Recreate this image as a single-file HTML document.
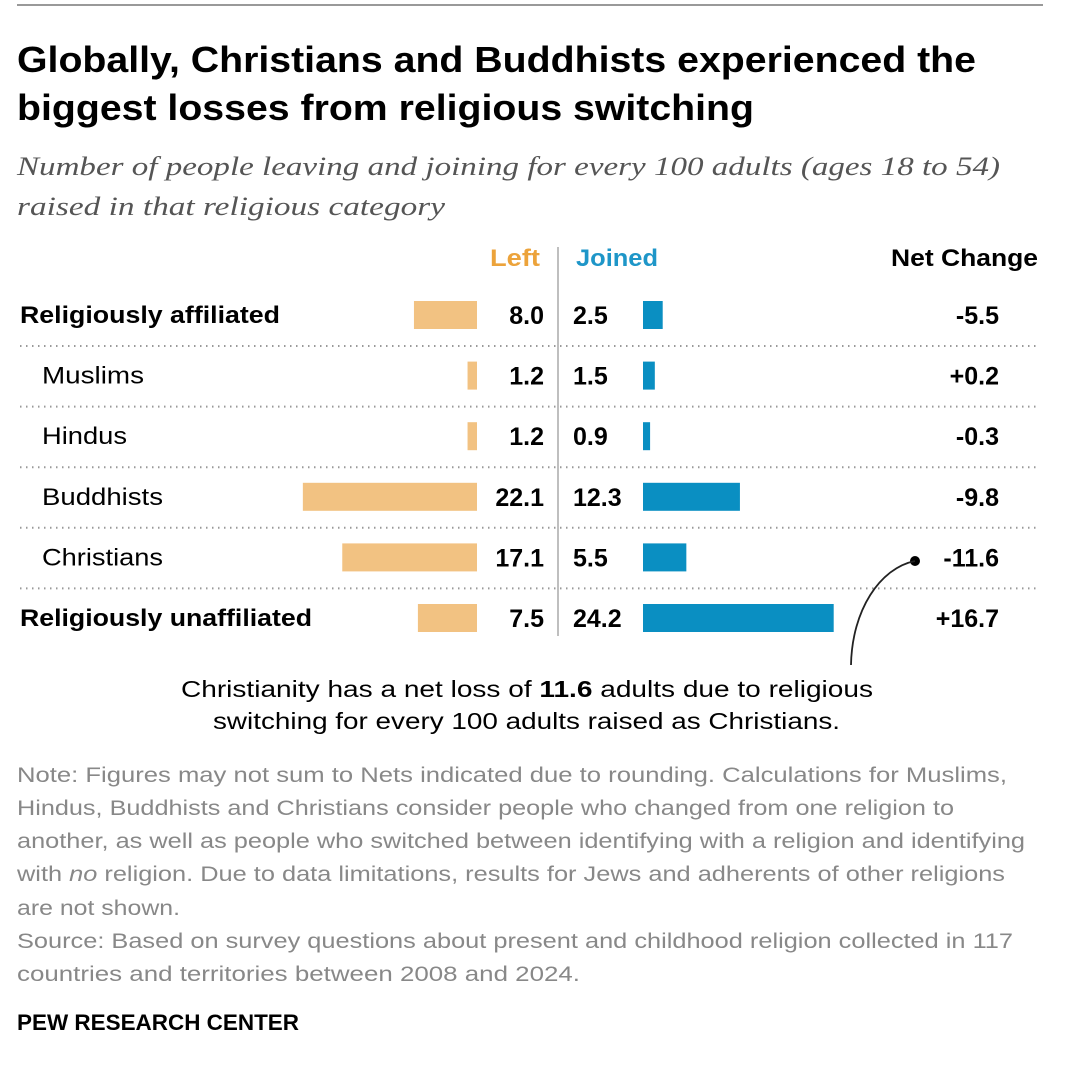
<!DOCTYPE html>
<html><head><meta charset="utf-8"><style>
body{margin:0;background:#fff;width:1082px;height:1074px;overflow:hidden}
svg{display:block;font-family:"Liberation Sans",Arial,sans-serif}
</style></head><body>
<svg width="1082" height="1074">
<line x1="17" y1="5" x2="1043" y2="5" stroke="#999" stroke-width="2"/>
<text x="17" y="72" font-size="36" font-weight="bold" fill="#000" textLength="959" lengthAdjust="spacingAndGlyphs">Globally, Christians and Buddhists experienced the</text>
<text x="17" y="120" font-size="36" font-weight="bold" fill="#000" textLength="737" lengthAdjust="spacingAndGlyphs">biggest losses from religious switching</text>
<text x="17" y="175" font-size="26" font-style="italic" font-family="Liberation Serif,serif" fill="#555" textLength="983" lengthAdjust="spacingAndGlyphs">Number of people leaving and joining for every 100 adults (ages 18 to 54)</text>
<text x="17" y="215" font-size="26" font-style="italic" font-family="Liberation Serif,serif" fill="#555" textLength="428" lengthAdjust="spacingAndGlyphs">raised in that religious category</text>
<text x="490" y="266" font-size="24" font-weight="bold" fill="#eca33b" textLength="50" lengthAdjust="spacingAndGlyphs">Left</text>
<text x="576" y="266" font-size="24" font-weight="bold" fill="#1e96c8" textLength="82" lengthAdjust="spacingAndGlyphs">Joined</text>
<text x="891" y="266" font-size="24" font-weight="bold" fill="#000" textLength="147" lengthAdjust="spacingAndGlyphs">Net Change</text>
<line x1="558" y1="247" x2="558" y2="636" stroke="#aaa" stroke-width="1.5"/>
<g id="rows"></g>
<circle cx="915" cy="561" r="5" fill="#000"/>
<path d="M915,561 C880,568 852,610 851,665" fill="none" stroke="#222" stroke-width="1.8"/>
<text x="181" y="697" font-size="23" fill="#000" textLength="692" lengthAdjust="spacingAndGlyphs">Christianity has a net loss of <tspan font-weight="bold">11.6</tspan> adults due to religious</text>
<text x="213" y="729" font-size="23" fill="#000" textLength="627" lengthAdjust="spacingAndGlyphs">switching for every 100 adults raised as Christians.</text>
<g font-size="21" fill="#888">
<text x="17" y="782" textLength="990" lengthAdjust="spacingAndGlyphs">Note: Figures may not sum to Nets indicated due to rounding. Calculations for Muslims,</text>
<text x="17" y="815" textLength="937" lengthAdjust="spacingAndGlyphs">Hindus, Buddhists and Christians consider people who changed from one religion to</text>
<text x="17" y="848" textLength="1008" lengthAdjust="spacingAndGlyphs">another, as well as people who switched between identifying with a religion and identifying</text>
<text x="17" y="881" textLength="988" lengthAdjust="spacingAndGlyphs">with <tspan font-style="italic">no</tspan> religion. Due to data limitations, results for Jews and adherents of other religions</text>
<text x="17" y="915" textLength="163" lengthAdjust="spacingAndGlyphs">are not shown.</text>
<text x="17" y="948" textLength="996" lengthAdjust="spacingAndGlyphs">Source: Based on survey questions about present and childhood religion collected in 117</text>
<text x="17" y="981" textLength="563" lengthAdjust="spacingAndGlyphs">countries and territories between 2008 and 2024.</text>
</g>
<text x="17" y="1030" font-size="22" font-weight="bold" fill="#000" textLength="282" lengthAdjust="spacingAndGlyphs">PEW RESEARCH CENTER</text>
</svg>
<script>
const categories=["Religiously affiliated","Muslims","Hindus","Buddhists","Christians","Religiously unaffiliated"];
const leftVals=[8.0,1.2,1.2,22.1,17.1,7.5];
const joinedVals=[2.5,1.5,0.9,12.3,5.5,24.2];
const netLabels=["-5.5","+0.2","-0.3","-9.8","-11.6","+16.7"];
const boldRow=[true,false,false,false,false,true];
const labelWidths=[260,102,85,121,121,292];
const NS="http://www.w3.org/2000/svg";
const g=document.getElementById('rows');
const scale=v=>v*7.88;
const rowY=i=>315+i*60.6;
function mk(tag,attrs,txt){const e=document.createElementNS(NS,tag);for(const k in attrs)e.setAttribute(k,attrs[k]);if(txt!=null)e.textContent=txt;g.appendChild(e);return e;}
categories.forEach((c,i)=>{
  const y=rowY(i);
  let e=mk('text',{x:boldRow[i]?20:42,y:y+8,'font-size':24,'font-weight':boldRow[i]?'bold':'normal',fill:'#000',textLength:labelWidths[i],lengthAdjust:'spacingAndGlyphs'},c);
  
  
  e=mk('rect',{x:477-scale(leftVals[i]),y:y-14,width:scale(leftVals[i]),height:28,fill:'#f2c282'});
  
  
  e=mk('rect',{x:643,y:y-14,width:scale(joinedVals[i]),height:28,fill:'#0a8fc2'});
  
  
  e=mk('text',{x:544,y:y+9,'font-size':25,'font-weight':'bold','text-anchor':'end',fill:'#000'},leftVals[i].toFixed(1));
  
  
  e=mk('text',{x:573,y:y+9,'font-size':25,'font-weight':'bold',fill:'#000'},joinedVals[i].toFixed(1));
  
  
  e=mk('text',{x:999,y:y+9,'font-size':25,'font-weight':'bold','text-anchor':'end',fill:'#000'},netLabels[i]);
  
  
  if(i<categories.length-1){
    e=mk('line',{x1:20,x2:1040,y1:y+31,y2:y+31,stroke:'#999','stroke-width':2,'stroke-dasharray':'1.5 4.5'});
    
    
  }
});
</script>
</body></html>
